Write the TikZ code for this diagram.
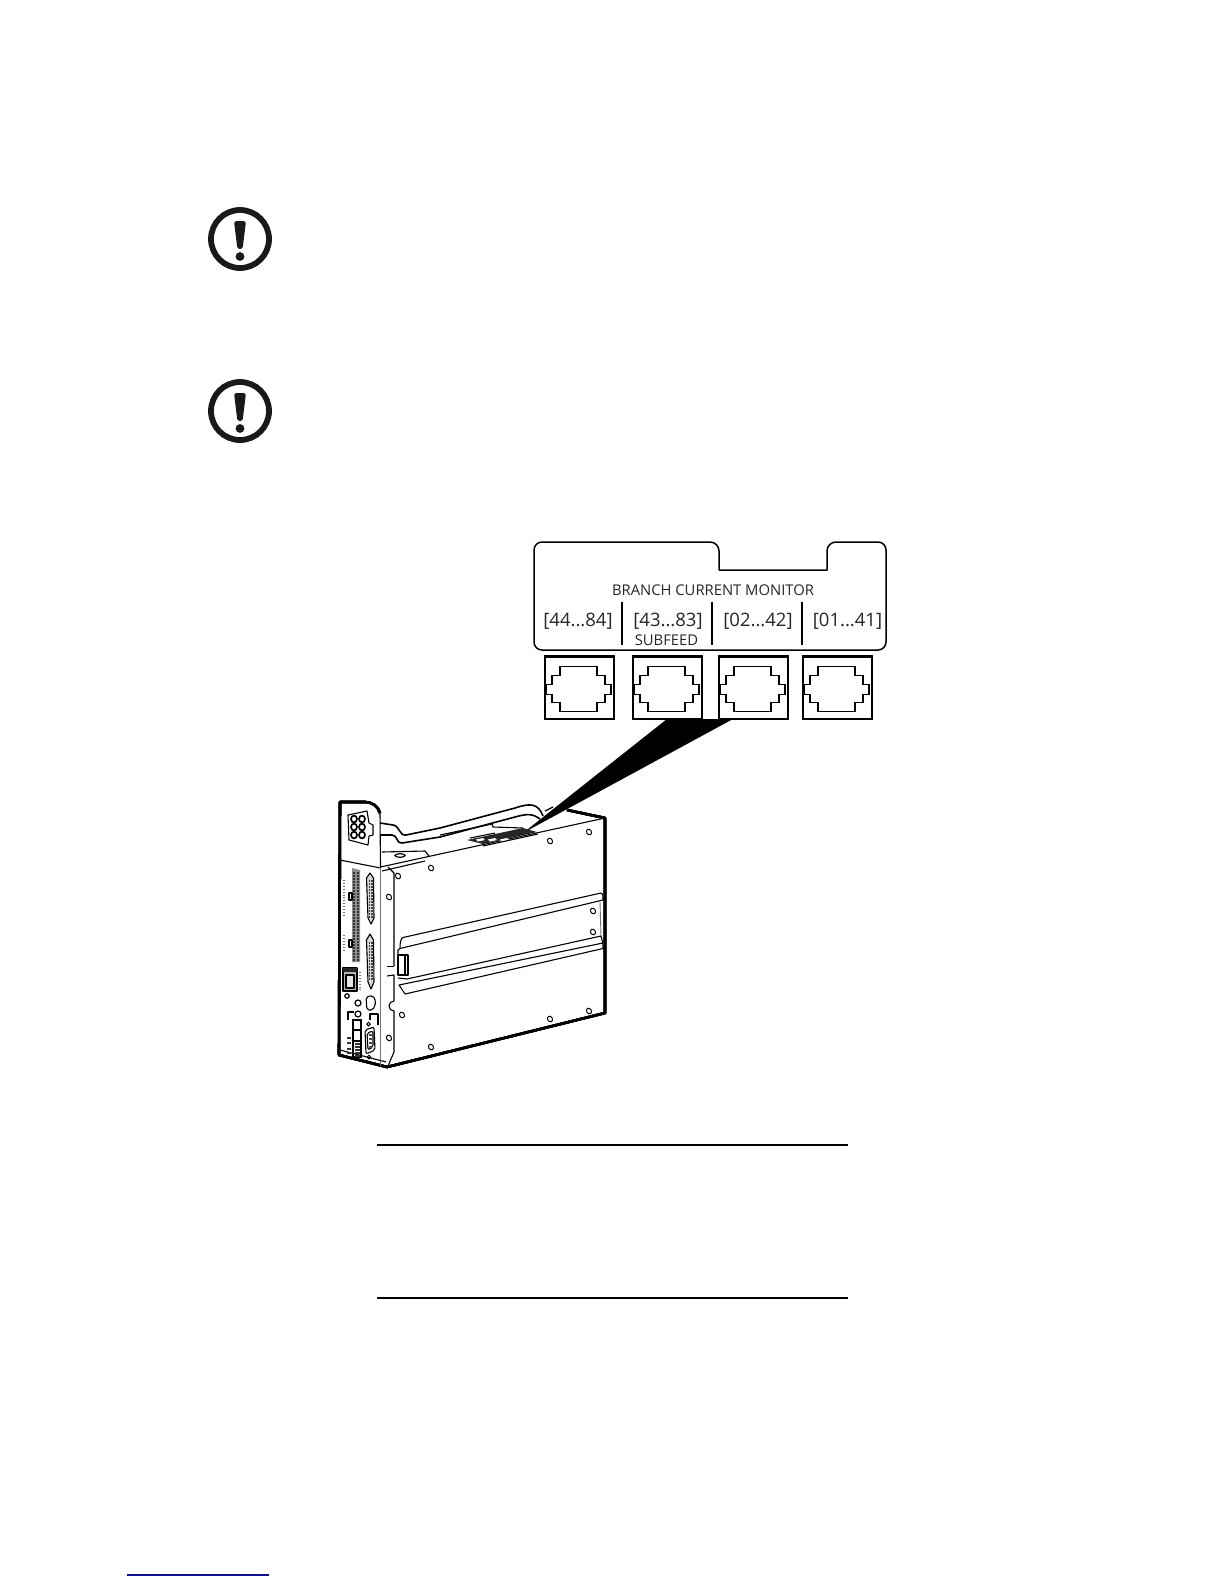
\documentclass[tikz,border=0pt]{standalone}
\usepackage{fontspec}
\setmainfont{Open Sans}
\usetikzlibrary{positioning}
\definecolor{linkblue}{RGB}{15,15,140}
\tikzset{
  panelline/.style={line width=1.5, line join=round},
  thickline/.style={line width=2.6, line join=round},
  thinline/.style={line width=1.1, line join=round},
  grayline/.style={line width=0.9, black!55},
  hole/.style={line width=1},
  platelabel/.style={inner sep=0, font=\fontsize{14.8}{15}\selectfont, black!85},
  rangelabel/.style={inner sep=0, font=\fontsize{18.5}{18.5}\selectfont, black!85},
}
\newcommand{\alerticon}[3]{%
  \draw [line width=5.8, black!90] (#1,#2) circle (29);
  \fill [black!90, rounded corners=2.5] (#1-6,#2-18) -- (#1+6,#2-18) -- (#1+2.6,#2+10) -- (#1-2.6,#2+10) -- cycle;
  \fill [black!90] (#1,#2+17.5) circle (4.4);
  \coordinate (#3) at (#1,#2);
}
\newcommand{\rjport}[2]{%
  \draw [line width=2.1] (#1,#2) rectangle ++(69,62.5);
  \draw [line width=1.6] (#1+15,#2+10) -- (#1+52,#2+10) -- (#1+52,#2+19) -- (#1+60,#2+19) -- (#1+60,#2+28)
    -- (#1+66,#2+28) -- (#1+66,#2+38) -- (#1+60,#2+38) -- (#1+60,#2+46) -- (#1+52,#2+46) -- (#1+52,#2+55)
    -- (#1+15,#2+55) -- (#1+15,#2+46) -- (#1+7,#2+46) -- (#1+7,#2+38) -- (#1+1.5,#2+38) -- (#1+1.5,#2+28)
    -- (#1+7,#2+28) -- (#1+7,#2+19) -- (#1+15,#2+19) -- cycle;
}
\begin{document}
\begin{tikzpicture}[x=1pt, y=-1pt]
\useasboundingbox (0,0) rectangle (1224,1584);
% alert icons
\alerticon{240}{239}{alertA}
\alerticon{240}{411}{alertB}
% wedge up to the ports
\fill (523,833) -- (667,719) -- (733,719) -- cycle;
% label plate
\draw [panelline] (542,542) -- (710,542) arc (-90:0:9) -- (719,570) -- (827,570) -- (827,551)
  arc (180:270:9) -- (878,542) arc (-90:0:8) -- (886,642) arc (0:90:8) -- (542,650) arc (90:180:8) -- (534,550) arc (180:270:8) -- cycle;
\node [platelabel] (title) at (713,590.5) {BRANCH CURRENT MONITOR};
\node [rangelabel] (rangeA) at (578,621.5) {[44...84]};
\node [rangelabel] (rangeB) at (668,621.5) {[43...83]};
\node [rangelabel] (rangeC) at (758,621.5) {[02...42]};
\node [rangelabel] (rangeD) at (847.5,621.5) {[01...41]};
\node [platelabel] (subfeed) at (666.5,640) {SUBFEED};
\foreach \x in {622,712,802}
  \draw [line width=1.1] (\x,601.5) -- (\x,644.5);
% ports
\foreach \x in {545,633,719,803}
  \rjport{\x}{656.5}
% unit outline
\draw [thickline] (380,813) .. controls (378,806) and (372,802) .. (365,802) -- (340,802) -- (339,1055) -- (387,1067) -- (605,1013) -- (605,818) -- (567,810);
\draw [thinline] (380,813) -- (380.5,867) -- (605,818);
\draw [thinline] (382,871) -- (425,861);
\draw [thinline] (340,860) -- (380.5,868);
\draw [grayline] (380.5,868) -- (380.5,1066);
\draw [thinline] (340,1050) -- (386,1062);
\draw [thinline] (388,867) -- (394,873) -- (394,966);
\draw [thinline] (387,966.5) -- (394,966.5);
\draw [thinline] (387,976) -- (394,975) -- (394,1001) arc (-90:-270:5) -- (394,1052) -- (388,1066);
% bracket plate and its slot
\draw [thinline] (382,852) -- (425,851) -- (429,856);
\draw [line width=1.2] (400,855.5) ellipse (5 and 1.8);
% cable
\draw [line width=1.6] (380,823) -- (393,825) .. controls (400,826) and (399,836) .. (406,835)
  -- (440,828) -- (515,808) .. controls (530,803) and (538,803) .. (543,816);
\draw [line width=1.6] (380,835) -- (392,835) .. controls (398,835) and (396,844) .. (402,843)
  -- (440,837) -- (515,817) .. controls (526,814) and (532,813) .. (540,819);
\draw [line width=1.3] (545,811) -- (553,807);
% connector on top
\draw [thinline] (440,835) -- (492,824) -- (493,827) -- (523,828);
\draw [thinline] (470,838) -- (495,833);
\fill [black!85] (467,840) -- (523,828) -- (537,832) -- (483,844) -- cycle;
\foreach \x in {476,488,500,512}
  \fill [white] (\x,839.5) -- (\x+7,838) -- (\x+9,840) -- (\x+2,841.5) -- cycle;
\draw [thinline] (483,846) -- (538,834);
% six pin plug
\draw [thinline, fill=white] (348,815) -- (367,811) -- (369,823) -- (373,825) -- (373,835) -- (369,836) -- (368,845) -- (349,840) -- cycle;
\foreach \y in {0,1,2}
  \foreach \x in {0,1}
    \draw [line width=1.7] (354+\x*8,819+\y*8) ellipse (3 and 3.4);
% rail
\draw [thinline] (403,937.5) -- (601,893) -- (603,895) -- (603,900) -- (400,948.5) -- (398,950) -- (398,955);
\draw [thinline] (403,937.5) .. controls (401,938) and (400,942) .. (400,948.5);
\draw [grayline] (600,902) -- (601,936);
\draw [thinline] (398,978) -- (407,979) -- (601,936) .. controls (602,940) and (603,942) .. (603,948.5) -- (405,994) -- (399,985) -- (603,943);
\draw [thinline] (398,955) rectangle (408,975);
\draw [thinline] (405,955) -- (405,975);
% screw holes
\foreach \x/\y in {398/876,431/868,389/897,593/911,593/932,402/1015,389/1038,431/1047,550/1019,589/1011,550/841,589/832}
  \draw [hole, rotate around={30:(\x,\y)}] (\x,\y) ellipse (2.4 and 3);
% terminal strip
\fill [black!45] (352,868) -- (360,870) -- (360,962) -- (352,962) -- cycle;
\foreach \y in {872,875,...,960} {
  \fill [black!80] (353,\y) rectangle +(2.4,1.5);
  \fill [black!80] (357,\y) rectangle +(2.4,1.5);
}
% sub-d connectors
\draw [thinline, fill=black!15] (366.5,878) -- (370,873) -- (373.5,878) -- (374,918) -- (371,924) -- (368,918) -- cycle;
\draw [thinline, fill=black!15] (366.5,940) -- (370,934) -- (373.5,940) -- (374,982) -- (371,989) -- (368,982) -- cycle;
\foreach \y in {880,883,...,916} {
  \fill [black!75] (368.5,\y) rectangle +(1.6,1.5);
  \fill [black!75] (371,\y) rectangle +(1.6,1.5);
}
\foreach \y in {942,945,...,980} {
  \fill [black!75] (368.5,\y) rectangle +(1.6,1.5);
  \fill [black!75] (371,\y) rectangle +(1.6,1.5);
}
% labels and switches on the face
\draw [grayline, dotted, line width=1.1] (344,880) -- (344,915);
\draw [grayline, dotted, line width=1.1] (344,935) -- (344,950);
\draw [thinline] (349,893) rectangle (352,900);
\draw [thinline] (349,940) rectangle (352,947);
% network jack
\draw [thinline, fill=black!30] (343,968) rectangle (357,991);
\fill [black!85] (343,968) rectangle (357,972);
\draw [thinline, fill=black!10] (346,975) rectangle (354,988);
\draw [grayline, dotted, line width=1.1] (360,972) -- (360,990);
% small sockets
\draw [line width=1.2] (347,996) circle (2.2);
\draw [line width=1.2] (358,1003) circle (3);
\draw [line width=1.2] (358,1014) circle (3);
\draw [thinline] (348,1020) -- (348,1012) -- (354,1012);
\draw [thinline, rounded corners=2] (366,997) -- (373,995.5) -- (376,1002) -- (373,1010) -- (367,1010) -- cycle;
\draw [thinline] (370,1020) -- (370,1014) -- (378,1014) -- (378,1025);
% lower strip
\draw [line width=1.2] (353,1020) rectangle (361,1057);
\draw [thinline] (353,1030) -- (361,1030);
\draw [thinline] (353,1041) -- (361,1041);
\foreach \y in {1043,1046,...,1055}
  \fill [black!80] (354.5,\y) rectangle +(5,1.6);
\foreach \y in {1037,1042,1048,1052}
  \fill [black!80] (347,\y) rectangle +(3.5,2);
% nine way connector
\draw [thinline, rounded corners=2] (365,1030) -- (374,1027) -- (375,1050) -- (366,1054) -- cycle;
\draw [thinline, rounded corners=2] (367,1033) -- (373,1031) -- (373,1047) -- (368,1050) -- cycle;
\foreach \y in {1034,1038,...,1046}
  \fill [black!70] (369,\y) rectangle +(3,1.6);
\draw [line width=1] (368.5,1024) circle (1.8);
\draw [line width=1] (369,1057) circle (1.8);
% rules and footer link
\draw [line width=2.3] (377,1145) coordinate (ruleA) -- (848,1145);
\draw [line width=1.2] (377,1298) coordinate (ruleB) -- (848,1298);
\draw [linkblue, line width=1.3] (127,1575) coordinate (link) -- (269,1575);
\end{tikzpicture}
\end{document}
